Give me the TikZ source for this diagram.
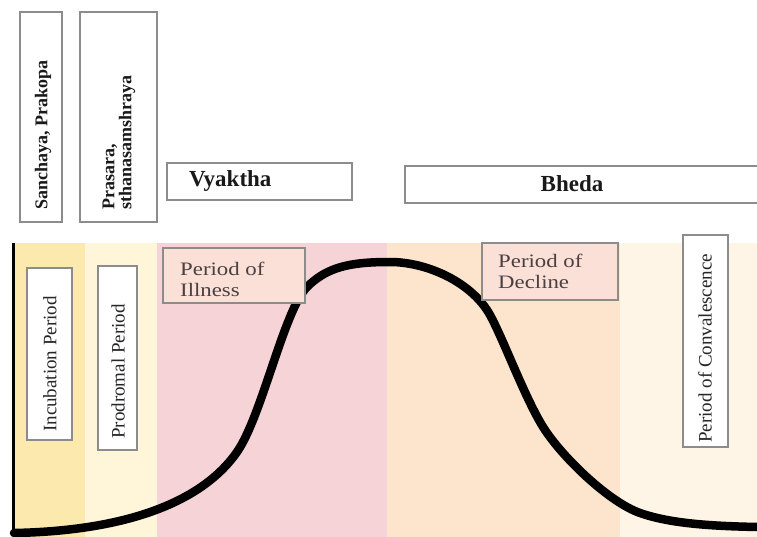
\documentclass[tikz,border=0pt]{standalone}
\usepackage{fontspec}
\setmainfont{Liberation Serif}
\newfontfamily\widefont[FakeStretch=1.2]{Liberation Serif}
\definecolor{boxgray}{HTML}{8C8C8C}
\definecolor{incub}{HTML}{FCE9AE}
\definecolor{prodro}{HTML}{FFF6DA}
\definecolor{illn}{HTML}{F6D3D7}
\definecolor{decl}{HTML}{FDE4CC}
\definecolor{conva}{HTML}{FEF5E7}
\definecolor{lblfill}{HTML}{FBE0D8}
\definecolor{txtgray}{HTML}{4A4040}
\tikzset{
  frame/.style={draw=boxgray, line width=1.1pt, inner sep=0pt, rectangle},
  toptxt/.style={font=\bfseries\fontsize{18}{17}\selectfont, text=black!90, inner sep=0pt},
  hdrtxt/.style={font=\bfseries\fontsize{23}{25}\selectfont, text=black!90, inner sep=0pt},
  sidetxt/.style={font=\fontsize{19}{20}\selectfont, text=black!85, inner sep=0pt, rotate=90},
  pertxt/.style={font=\widefont\fontsize{19}{21}\selectfont, text=txtgray, inner sep=0pt, align=left},
  bigcurve/.style={line width=8.5pt, line cap=round, line join=round},
}
\begin{document}
\begin{tikzpicture}[x=1pt,y=-1pt]
\useasboundingbox (0,0) rectangle (757,537);
\fill[white] (0,0) rectangle (757,537);
% bands
\fill[incub] (12,243) rectangle (85,537);
\fill[prodro] (85,243) rectangle (157,537);
\fill[illn] (157,243) rectangle (387,537);
\fill[decl] (387,243) rectangle (620,537);
\fill[conva] (620,243) rectangle (757,537);
% top boxes
\node[frame, minimum width=42pt, minimum height=210pt] (sanbox) at (41,117) {};
\node[toptxt, rotate=90, anchor=west] (santxt) at (43,210) {Sanchaya, Prakopa};
\node[frame, minimum width=77pt, minimum height=210pt] (prabox) at (118.5,117) {};
\node[toptxt, rotate=90, anchor=west, align=left] (pratxt) at (119,210) {Prasara,\\sthanasamshraya};
\node[frame, minimum width=185pt, minimum height=37pt] (vyabox) at (259.5,181.5) {};
\node[hdrtxt, anchor=west] (vyatxt) at (189,181) {Vyaktha};
\node[frame, minimum width=360pt, minimum height=37pt] (bhebox) at (585,184.5) {};
\node[hdrtxt] (bhetxt) at (572,184) {Bheda};
% axis
\draw[line width=3.5pt] (13.5,243) coordinate (axtop) -- (13.5,535) coordinate (axbot);
% curve
\coordinate (c0) at (14,533);
\coordinate (c1) at (237,452);
\coordinate (c2) at (307,287);
\coordinate (peak) at (390,262);
\coordinate (c4) at (487,310);
\coordinate (c5) at (545,430);
\coordinate (c6) at (640,513);
\coordinate (c7) at (757,527);
\draw[bigcurve] (c0) .. controls (120,531) and (200,505) .. (c1)
  .. controls (262,416) and (284,310) .. (c2)
  .. controls (327,267) and (350,262) .. (peak)
  .. controls (425,262) and (467,280) .. (c4)
  .. controls (500,329.5) and (525,400) .. (c5)
  .. controls (565,460) and (610,502.5) .. (c6)
  .. controls (670,523.5) and (710,526) .. (c7);
% side boxes
\node[frame, fill=white, minimum width=45pt, minimum height=172pt] (incbox) at (49.5,354) {};
\node[sidetxt, anchor=west] (inctxt) at (50,432) {Incubation Period};
\node[frame, fill=white, minimum width=39pt, minimum height=184pt] (probox) at (117.5,358) {};
\node[sidetxt, anchor=west] (protxt) at (118,439) {Prodromal Period};
\node[frame, fill=white, minimum width=45pt, minimum height=212pt] (conbox) at (705.5,341) {};
\node[sidetxt, anchor=west] (contxt) at (705,443) {Period of Convalescence};
% period label boxes
\node[frame, fill=lblfill, minimum width=142pt, minimum height=55pt] (illbox) at (234,275.5) {};
\node[pertxt, anchor=north west] (illtxt) at (180,262) {Period of\\Illness};
\node[frame, fill=lblfill, minimum width=136pt, minimum height=57pt] (decbox) at (550,271.5) {};
\node[pertxt, anchor=north west] (dectxt) at (498,254) {Period of\\Decline};
\end{tikzpicture}
\end{document}
